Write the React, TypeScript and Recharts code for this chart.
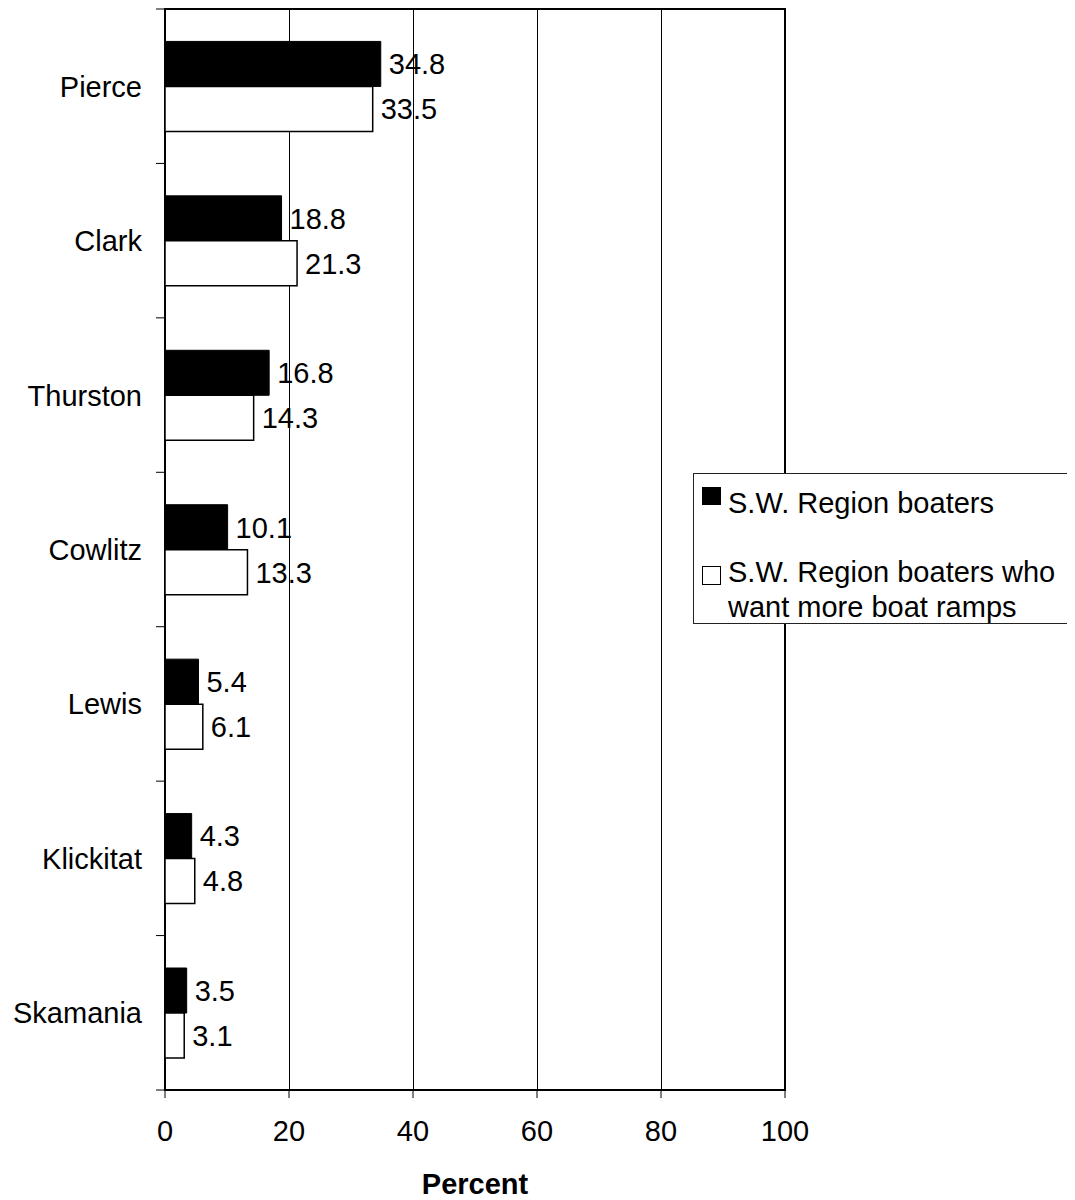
import { BarChart, Bar, XAxis, YAxis, CartesianGrid, LabelList, ReferenceArea } from "recharts";

const FONT = "'Liberation Sans', Arial, sans-serif";
const FS = 29;

const counties = ["Pierce", "Clark", "Thurston", "Cowlitz", "Lewis", "Klickitat", "Skamania"];
const allBoaters = [34.8, 18.8, 16.8, 10.1, 5.4, 4.3, 3.5];
const wantRamps = [33.5, 21.3, 14.3, 13.3, 6.1, 4.8, 3.1];
const xTicks = [0, 20, 40, 60, 80, 100];

const seriesNames = ["S.W. Region boaters", "S.W. Region boaters who want more boat ramps"];

const data = counties.map((name, i) => ({ name, a: allBoaters[i], b: wantRamps[i] }));

const W = 1067;
const H = 1192;
const X_AXIS_H = 110;
const Y_AXIS_W = 157;
const M = { top: 1, right: 290, bottom: 0, left: 0 };
const BAND_HALF = (H - M.top - X_AXIS_H) / counties.length / 2;

function CountyTick(props: any) {
  const { x, y, payload } = props;
  const half = payload?.offset || BAND_HALF;
  const last = payload?.value === counties[counties.length - 1];
  return (
    <g>
      <line x1={x + 14} x2={x + 23} y1={y - half} y2={y - half} stroke="#000" strokeWidth={1} />
      {last && <line x1={x + 14} x2={x + 23} y1={y + half} y2={y + half} stroke="#000" strokeWidth={1} />}
      <text x={x} y={y} dy="0.36em" textAnchor="end" fontSize={FS} fontFamily={FONT} fill="#000">
        {payload.value}
      </text>
    </g>
  );
}

function LegendBox() {
  return (
    <div
      style={{
        position: "absolute",
        left: 685,
        top: 465,
        width: 382,
        height: 151,
        boxSizing: "border-box",
        border: "1px solid #222",
        background: "#fff",
        fontFamily: FONT,
        fontSize: FS,
        lineHeight: "35px",
        color: "#000",
      }}
    >
      <div style={{ position: "absolute", left: 8, top: 13, width: 19, height: 18, background: "#000" }} />
      <div style={{ position: "absolute", left: 34, top: 12, whiteSpace: "nowrap" }}>{seriesNames[0]}</div>
      <div
        style={{
          position: "absolute",
          left: 8,
          top: 92,
          width: 19,
          height: 19,
          boxSizing: "border-box",
          border: "1.5px solid #000",
          background: "#fff",
        }}
      />
      <div style={{ position: "absolute", left: 34, top: 81, width: 345 }}>
        S.W. Region boaters who
        <br />
        want more boat ramps
      </div>
    </div>
  );
}

export default function App() {
  return (
    <div style={{ position: "relative", width: W, height: H }}>
      <style>{"html,body{overflow:hidden} .recharts-cartesian-grid line{shape-rendering:crispEdges}"}</style>
      <BarChart
        width={W}
        height={H}
        data={data}
        layout="vertical"
        margin={M}
        barCategoryGap="21%"
        barGap={0}
      >
        <CartesianGrid horizontal={false} stroke="#000" strokeWidth={1} />
        <XAxis
          type="number"
          domain={[0, 100]}
          ticks={xTicks}
          interval={0}
          height={X_AXIS_H}
          axisLine={false}
          tickLine={{ stroke: "#000", strokeWidth: 1 }}
          tickSize={8}
          tickMargin={22}
          tick={{ fill: "#000", fontSize: FS, fontFamily: FONT }}
          label={{
            value: "Percent",
            position: "insideBottom",
            offset: 6,
            fill: "#000",
            fontSize: FS,
            fontWeight: "bold",
            fontFamily: FONT,
          }}
        />
        <YAxis
          type="category"
          dataKey="name"
          width={Y_AXIS_W}
          axisLine={false}
          tickLine={false}
          tickSize={9}
          tickMargin={14}
          interval={0}
          tick={<CountyTick />}
        />
        <ReferenceArea x1={0} x2={100} fill="none" stroke="#000" strokeWidth={2} />
        <Bar dataKey="a" name={seriesNames[0]} fill="#000" stroke="#000" strokeWidth={1} isAnimationActive={false}>
          <LabelList dataKey="a" position="right" offset={8} fill="#000" fontSize={FS} fontFamily={FONT} />
        </Bar>
        <Bar dataKey="b" name={seriesNames[1]} fill="#fff" stroke="#000" strokeWidth={1.5} isAnimationActive={false}>
          <LabelList dataKey="b" position="right" offset={8} fill="#000" fontSize={FS} fontFamily={FONT} />
        </Bar>
      </BarChart>
      <LegendBox />
    </div>
  );
}
